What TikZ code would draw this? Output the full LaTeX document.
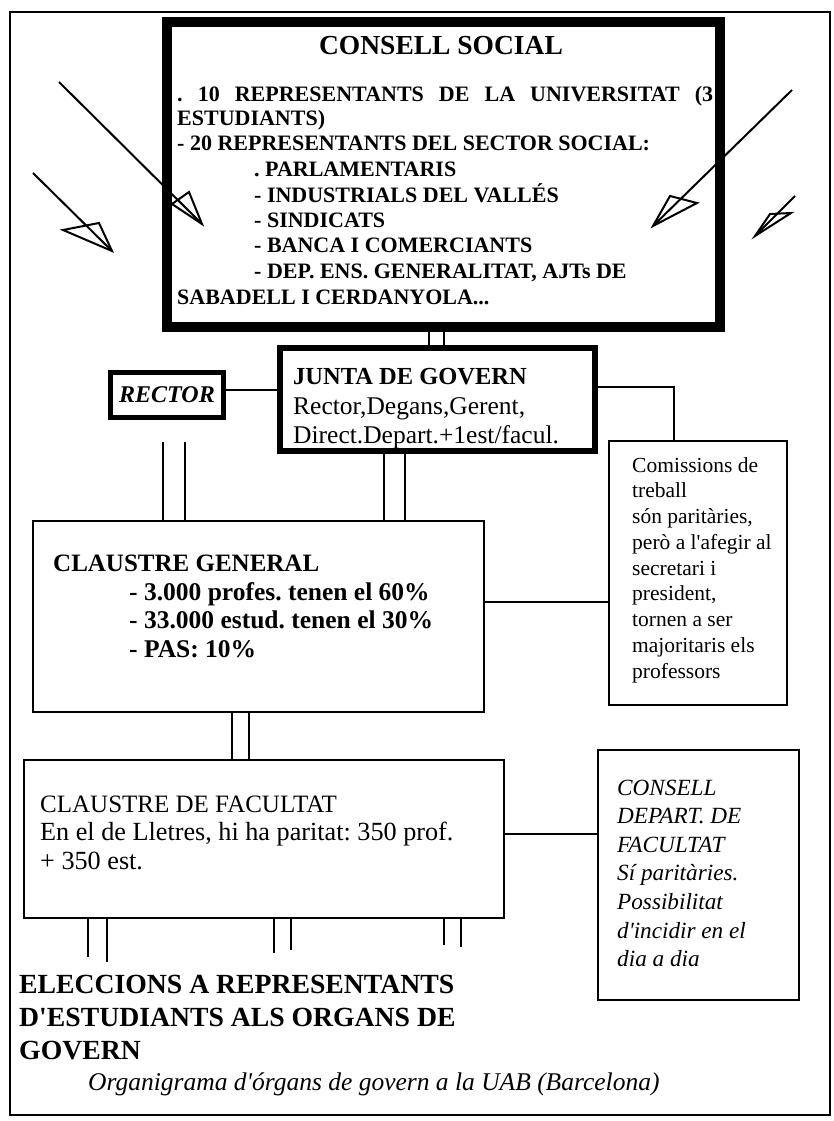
\documentclass[tikz,border=0pt]{standalone}
\usepackage{fontspec}
\setmainfont{Liberation Serif}
\usetikzlibrary{calc}
\newcommand\myfs[1]{\fontsize{#1}{#1}\selectfont}
\newcommand\aq{\textquotesingle}
\frenchspacing
\begin{document}
\begin{tikzpicture}[x=1pt,y=-1pt,
  box/.style={draw, rectangle, inner sep=0pt},
  txt/.style={inner sep=0pt, anchor=base west},
  conn/.style={line width=2pt},
  arrowline/.style={line width=2pt, line join=miter},
  csfont/.style={font=\myfs{22}\bfseries},
]
\fill[white] (0,0) rectangle (833,1121);
\useasboundingbox (0,0) rectangle (833,1121);
% outer frame
\draw[line width=2pt] (10,12) rectangle (830,1115);

% boxes
\node[box, line width=10pt, minimum width=553pt, minimum height=305pt] (cs) at (443.5,174.5) {};
\node[box, line width=5.5pt, minimum width=315pt, minimum height=103pt] (jg) at (437.5,399.5) {};
\node[box, line width=5pt, minimum width=113pt, minimum height=45pt, font=\myfs{24}\bfseries\itshape] (rc) at (167,395) {RECTOR};
\node[box, line width=2.5pt, minimum width=178pt, minimum height=264pt] (cm) at (698,573) {};
\node[box, line width=2.5pt, minimum width=451pt, minimum height=191pt] (cg) at (258.5,616.5) {};
\node[box, line width=2.5pt, minimum width=480pt, minimum height=158pt] (fac) at (264,839) {};
\node[box, line width=2.5pt, minimum width=201pt, minimum height=250pt] (cd) at (698.5,875) {};

% consell social text
\node[inner sep=0pt, anchor=base, font=\myfs{27.5}\bfseries] (csh) at (441,55) {CONSELL SOCIAL};
\node[txt, csfont] (cs1) at (177,102) {\makebox[536pt][s]{. 10 REPRESENTANTS DE LA UNIVERSITAT (3}};
\node[txt, csfont] (cs2) at (177,126) {ESTUDIANTS)};
\node[txt, csfont] (cs3) at (177,150) {- 20 REPRESENTANTS DEL SECTOR SOCIAL:};
\node[txt, csfont] (cs4) at (254,176) {. PARLAMENTARIS};
\node[txt, csfont] (cs5) at (254,202) {- INDUSTRIALS DEL VALLÉS};
\node[txt, csfont] (cs6) at (254,227) {- SINDICATS};
\node[txt, csfont] (cs7) at (254,252) {- BANCA I COMERCIANTS};
\node[txt, csfont] (cs8) at (254,278) {- DEP. ENS. GENERALITAT, AJTs DE};
\node[txt, csfont] (cs9) at (177,304) {SABADELL I CERDANYOLA...};

% junta text
\node[txt, font=\myfs{24.5}\bfseries] (jg1) at (293,384) {JUNTA DE GOVERN};
\node[txt, font=\myfs{25.5}] (jg2) at (293,414) {Rector,Degans,Gerent,};
\node[txt, font=\myfs{25.5}] (jg3) at (293,443) {Direct.Depart.+1est/facul.};

% comissions text
\foreach \t [count=\i] in {Comissions de, treball, {són paritàries,}, {però a l\aq afegir al}, secretari i, {president,}, tornen a ser, majoritaris els, professors}
  \node[txt, font=\myfs{21.5}] (cmt\i) at (632,{472+25.75*(\i-1)}) {\t};

% claustre general text
\node[txt, font=\myfs{25}\bfseries] (cg1) at (53,571) {CLAUSTRE GENERAL};
\node[txt, font=\myfs{25.5}\bfseries] (cg2) at (129,600) {- 3.000 profes. tenen el 60\%};
\node[txt, font=\myfs{25.5}\bfseries] (cg3) at (129,628) {- 33.000 estud. tenen el 30\%};
\node[txt, font=\myfs{25.5}\bfseries] (cg4) at (129,657) {- PAS: 10\%};

% facultat text
\node[txt, font=\myfs{25}] (fa1) at (40,812) {CLAUSTRE DE FACULTAT};
\node[txt, font=\myfs{26.2}] (fa2) at (40,840) {En el de Lletres, hi ha paritat: 350 prof.};
\node[txt, font=\myfs{26.2}] (fa3) at (40,869) {+ 350 est.};

% consell depart text
\foreach \t [count=\i] in {CONSELL, DEPART. DE, FACULTAT, Sí paritàries., Possibilitat, d\aq incidir en el, dia a dia}
  \node[txt, font=\myfs{23.2}\itshape] (cdt\i) at (617,{795+28.6*(\i-1)}) {\t};

% eleccions
\node[txt, font=\myfs{27.7}\bfseries] (el1) at (19,993) {ELECCIONS A REPRESENTANTS};
\node[txt, font=\myfs{27.7}\bfseries] (el2) at (19,1026) {D\aq ESTUDIANTS ALS ORGANS DE};
\node[txt, font=\myfs{27.7}\bfseries] (el3) at (19,1059) {GOVERN};

% caption
\node[txt, font=\myfs{25.5}\itshape] (cap) at (88,1090) {Organigrama d\aq órgans de govern a la UAB (Barcelona)};

% connectors
\draw[conn] ([xshift=-14.5pt]cs.south) -- ([xshift=-14.5pt]cs.south |- jg.north);
\draw[conn] ([xshift=0.5pt]cs.south) -- ([xshift=0.5pt]cs.south |- jg.north);
\draw[conn] ([yshift=5pt]rc.east) -- ([yshift=5pt]rc.east -| jg.west);
\draw[conn] ([yshift=12.5pt]jg.east) -| ([xshift=-24pt]cm.north);
\draw[conn] ([xshift=-53.5pt]jg.south) -- ([xshift=-53.5pt]jg.south |- cg.north);
\draw[conn] ([xshift=-32.5pt]jg.south) -- ([xshift=-32.5pt]jg.south |- cg.north);
\draw[conn] ([xshift=-4pt,yshift=-22pt]rc.south) -- ([xshift=-4pt]rc.south |- cg.north);
\draw[conn] ([xshift=18pt,yshift=-22pt]rc.south) -- ([xshift=18pt]rc.south |- cg.north);
\draw[conn] ([yshift=14.5pt]cg.east) -- ([yshift=14.5pt]cg.east -| cm.west);
\draw[conn] ([xshift=-26.5pt]cg.south) -- ([xshift=-26.5pt]cg.south |- fac.north);
\draw[conn] ([xshift=-9.5pt]cg.south) -- ([xshift=-9.5pt]cg.south |- fac.north);
\draw[conn] ([yshift=5pt]fac.east) -- ([yshift=5pt]fac.east -| cd.west);
\draw[conn] ([xshift=-176pt]fac.south) -- ++(0,38);
\draw[conn] ([xshift=-157pt]fac.south) -- ++(0,43);
\draw[conn] ([xshift=10pt]fac.south) -- ++(0,34);
\draw[conn] ([xshift=27pt]fac.south) -- ++(0,31);
\draw[conn] ([xshift=180pt]fac.south) -- ++(0,26);
\draw[conn] ([xshift=197pt]fac.south) -- ++(0,28);

% arrows
\draw[arrowline] (59,82) -- (202,224);
\draw[arrowline] (202,224) -- (172,204) -- (189,192) -- cycle;
\draw[arrowline] (33,173) -- (112,251);
\draw[arrowline] (112,251) -- (63,230) -- (99,223) -- cycle;
\draw[arrowline] (792,90) -- (653,226);
\draw[arrowline] (653,226) -- (670,196) -- (697,203) -- cycle;
\draw[arrowline] (795,196) -- (755,236);
\draw[arrowline] (755,236) -- (770,214) -- (791,213) -- cycle;
\end{tikzpicture}
\end{document}
